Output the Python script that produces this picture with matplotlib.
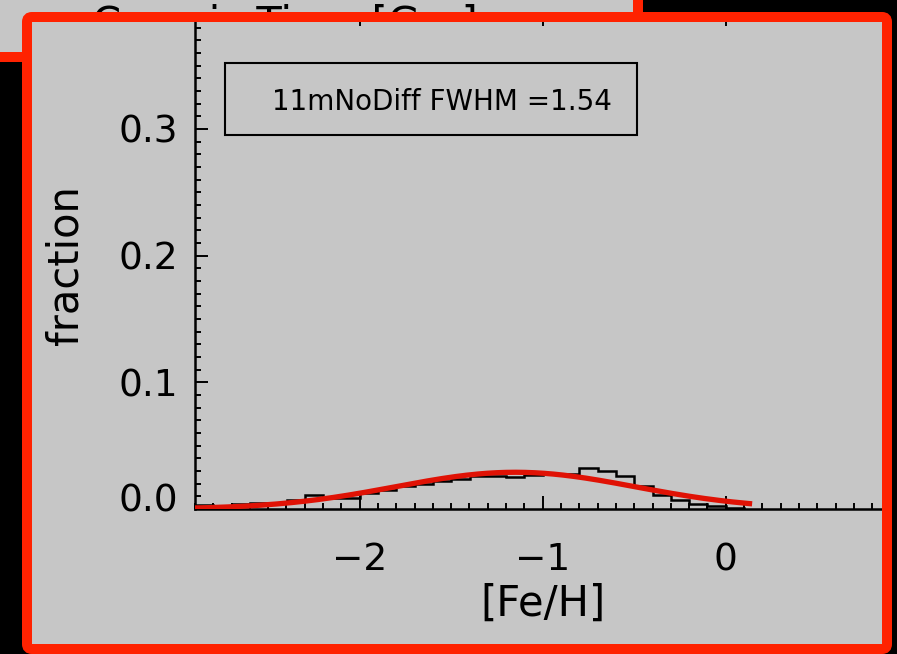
import matplotlib
matplotlib.use("Agg")
import matplotlib.pyplot as plt
import matplotlib.transforms as mtransforms
import numpy as np
from matplotlib.patches import FancyBboxPatch, Rectangle
from matplotlib.ticker import MultipleLocator, FormatStrFormatter

# [Fe/H] histogram (bin edges and fraction per bin)
FEH_EDGES = [-2.9, -2.8, -2.7, -2.6, -2.5, -2.4, -2.3, -2.2, -2.1, -2.0,
             -1.9, -1.8, -1.7, -1.6, -1.5, -1.4, -1.3, -1.2, -1.1, -1.0,
             -0.9, -0.8, -0.7, -0.6, -0.5, -0.4, -0.3, -0.2, -0.1, 0.0, 0.1]
FRACTION = [0.003, 0.002, 0.004, 0.005, 0.005, 0.007, 0.011, 0.009, 0.009, 0.013,
            0.015, 0.018, 0.020, 0.022, 0.024, 0.026, 0.026, 0.025, 0.027, 0.028,
            0.028, 0.032, 0.030, 0.026, 0.018, 0.011, 0.007, 0.004, 0.002, 0.001]

# gaussian fit
FIT_PEAK = 0.029
FIT_CENTER = -1.15
FWHM = 1.54
FIT_RANGE = (-2.95, 0.13)

RUN_NAME = "11mNoDiff"
X_TICKS = [-2, -1, 0]
Y_TICKS = [0.0, 0.1, 0.2, 0.3]

GREY = "#c6c6c6"
FRAME_RED = "#ff2200"
FIT_RED = "#e01205"

W, H = 897, 654
fig = plt.figure(figsize=(W / 100, H / 100), dpi=100, facecolor="black")

# background layer in pixel coordinates: panel behind + grey fill of the front panel
bg = fig.add_axes([0, 0, 1, 1], zorder=0)
bg.set_xlim(0, W)
bg.set_ylim(H, 0)
bg.axis("off")
bg.add_patch(Rectangle((-30, -30), 668, 87, facecolor=GREY, edgecolor=FRAME_RED,
                       linewidth=7.2, zorder=1))
bg.text(92, 37, "Cosmic Time [Gyr]", fontsize=30, color="black",
        ha="left", va="baseline", zorder=2)
bg.add_patch(FancyBboxPatch((27, 17), 860, 632, boxstyle="round,pad=0,rounding_size=5",
                            facecolor=GREY, edgecolor="none", zorder=3))

# main axes
left, right, bottom, top = 195, 897, 509, 13
ax = fig.add_axes([left / W, 1 - bottom / H, (right - left) / W, (bottom - top) / H],
                  zorder=1)
ax.set_facecolor("none")
ax.set_xlim(-2.9, -2.9 + (right - left) / 183.0)
ax.set_ylim(0, (bottom - top) / 1266.7)

ax.stairs(FRACTION, FEH_EDGES, color="black", linewidth=1.8, zorder=2)

sigma = FWHM / (2 * np.sqrt(2 * np.log(2)))
xfit = np.linspace(FIT_RANGE[0], FIT_RANGE[1], 300)
yfit = FIT_PEAK * np.exp(-0.5 * ((xfit - FIT_CENTER) / sigma) ** 2)
ax.plot(xfit, yfit, color=FIT_RED, linewidth=3.8, zorder=3)

ax.set_xticks(X_TICKS)
ax.set_yticks(Y_TICKS)
ax.xaxis.set_minor_locator(MultipleLocator(0.1))
ax.yaxis.set_minor_locator(MultipleLocator(0.01))
ax.yaxis.set_major_formatter(FormatStrFormatter("%.1f"))
for s in ax.spines.values():
    s.set_linewidth(1.8)
ax.tick_params(which="both", direction="in", top=True, right=True, width=1.4,
               labelsize=27, colors="black")
ax.tick_params(which="major", length=9.4)
ax.tick_params(which="minor", length=4.3)
ax.tick_params(axis="y", pad=12)
ax.tick_params(axis="x", pad=24)

ax.set_xlabel("[Fe/H]", fontsize=30, va="center")
ax.set_ylabel("fraction", fontsize=30, va="center")
ax.xaxis.set_label_coords((543 - left) / (right - left), (bottom - 604) / (bottom - top))
ax.yaxis.set_label_coords((65 - left) / (right - left), (bottom - 265) / (bottom - top))

# the 0.0 label sits a little above the axis line
lbl0 = ax.yaxis.get_major_ticks()[0].label1
lbl0.set_transform(lbl0.get_transform()
                   + mtransforms.ScaledTranslation(0, 0.12, fig.dpi_scale_trans))

# label box
box_l, box_r, box_t, box_b = 225, 637, 63, 135
ax.add_patch(Rectangle(((box_l - left) / (right - left), (bottom - box_b) / (bottom - top)),
                       (box_r - box_l) / (right - left), (box_b - box_t) / (bottom - top),
                       transform=ax.transAxes, facecolor="none", edgecolor="black",
                       linewidth=1.5, zorder=4))
ax.text((272 - left) / (right - left), (bottom - 102) / (bottom - top),
        f"{RUN_NAME} FWHM ={FWHM:.2f}", transform=ax.transAxes,
        fontsize=20, ha="left", va="center", zorder=5)

# front layer: red frame of the panel drawn over the axes edges
fr = fig.add_axes([0, 0, 1, 1], zorder=2)
fr.set_xlim(0, W)
fr.set_ylim(H, 0)
fr.axis("off")
fr.patch.set_alpha(0)
fr.add_patch(FancyBboxPatch((27, 17), 860, 632, boxstyle="round,pad=0,rounding_size=5",
                            facecolor="none", edgecolor=FRAME_RED, linewidth=7.2))

fig.savefig("out.png", dpi=100, facecolor="black")
